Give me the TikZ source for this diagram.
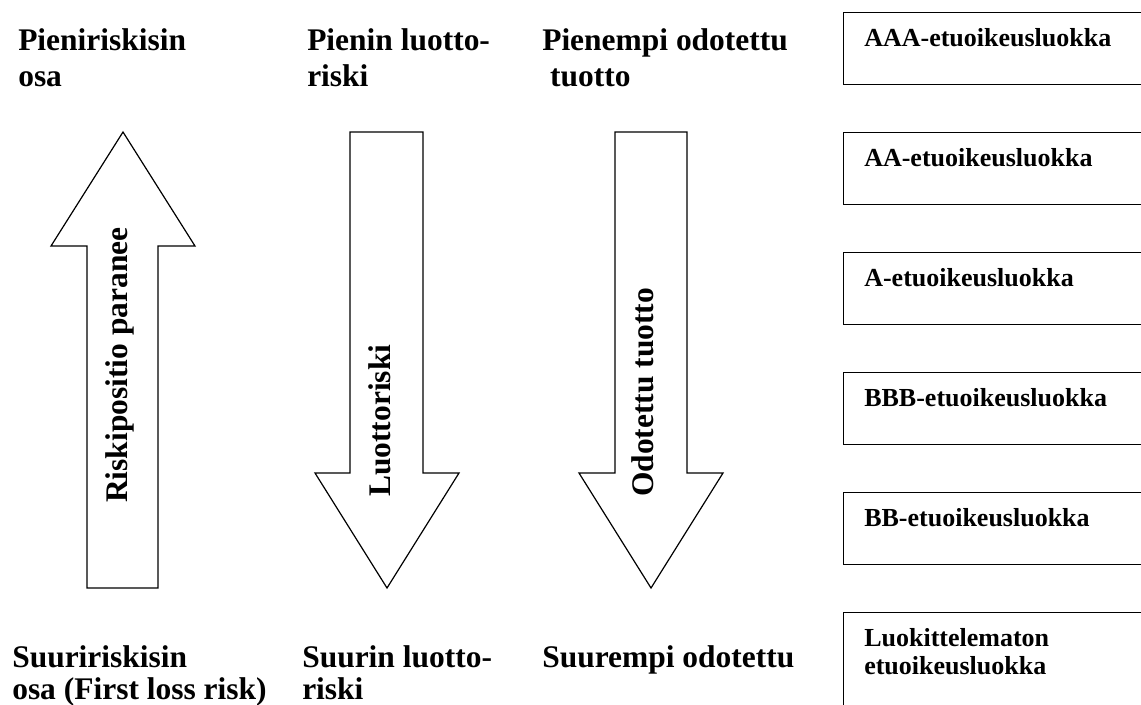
\documentclass[tikz,border=0pt]{standalone}
\usepackage{fontspec}
\setmainfont{Liberation Serif}
\begin{document}
\begin{tikzpicture}[
    x=0.75pt, y=-0.75pt,
    heading/.style={font=\fontsize{23.6}{27}\selectfont\bfseries,
      anchor=base west, inner sep=0pt, align=left},
    footing/.style={heading, font=\fontsize{23.6}{24}\selectfont\bfseries},
    tranchetext/.style={font=\fontsize{19.5}{20.5}\selectfont\bfseries,
      anchor=base west, inner sep=0pt, align=left},
    tranche/.style={draw, line width=1.1pt, anchor=north west,
      minimum width=260pt, minimum height=54pt, inner sep=0pt},
    bigarrow/.style={draw, line width=0.9pt, fill=white, line join=miter},
    arrowtext/.style={font=\fontsize{23.6}{27}\selectfont\bfseries,
      rotate=90, anchor=base west, inner sep=0pt}
  ]
  \useasboundingbox (0,0) rectangle (1141,704);
  \clip (0,0) rectangle (1141,704);
  \fill[white] (0,0) rectangle (1141,704);

  % column headings, top and bottom (anchored on the last line's baseline)
  \node[heading] (topA) at (18,86)  {Pieniriskisin\\osa};
  \node[heading] (topB) at (307,86) {Pienin luotto-\\riski};
  \node[heading] (topC) at (542,86) {Pienempi odotettu\\\hspace*{0.25em}tuotto};
  \node[footing] (botA) at (12,699)  {Suuririskisin\\osa (First loss risk)};
  \node[footing] (botB) at (302,699) {Suurin luotto-\\riski};
  \node[footing] (botC) at (542,667) {Suurempi odotettu};

  % block arrows
  \draw[bigarrow] (123,132) -- (195,246) -- (158,246) -- (158,588)
    -- (87,588) -- (87,246) -- (51,246) -- cycle;
  \draw[bigarrow] (350,132) -- (423,132) -- (423,473) -- (459,473)
    -- (387,588) -- (315,473) -- (350,473) -- cycle;
  \draw[bigarrow] (615,132) -- (687,132) -- (687,473) -- (723,473)
    -- (651,588) -- (579,473) -- (615,473) -- cycle;

  \node[arrowtext] (upTxt)  at (127,503) {Riskipositio paranee};
  \node[arrowtext] (midTxt) at (390,497) {Luottoriski};
  \node[arrowtext] (rgtTxt) at (653,497) {Odotettu tuotto};

  % tranche boxes, running off the right edge
  \foreach \n/\y/\txt in {t1/12/AAA-etuoikeusluokka,
                          t2/132/AA-etuoikeusluokka,
                          t3/252/A-etuoikeusluokka,
                          t4/372/BBB-etuoikeusluokka,
                          t5/492/BB-etuoikeusluokka}{
    \node[tranche] (\n) at (843,\y) {};
    \node[tranchetext] (\n txt) at (864,\y+34) {\txt};
  }
  \node[tranche, minimum height=90pt] (t6) at (843,612) {};
  \node[tranchetext] (t6txt) at (864,674) {Luokittelematon\\etuoikeusluokka};
\end{tikzpicture}
\end{document}
